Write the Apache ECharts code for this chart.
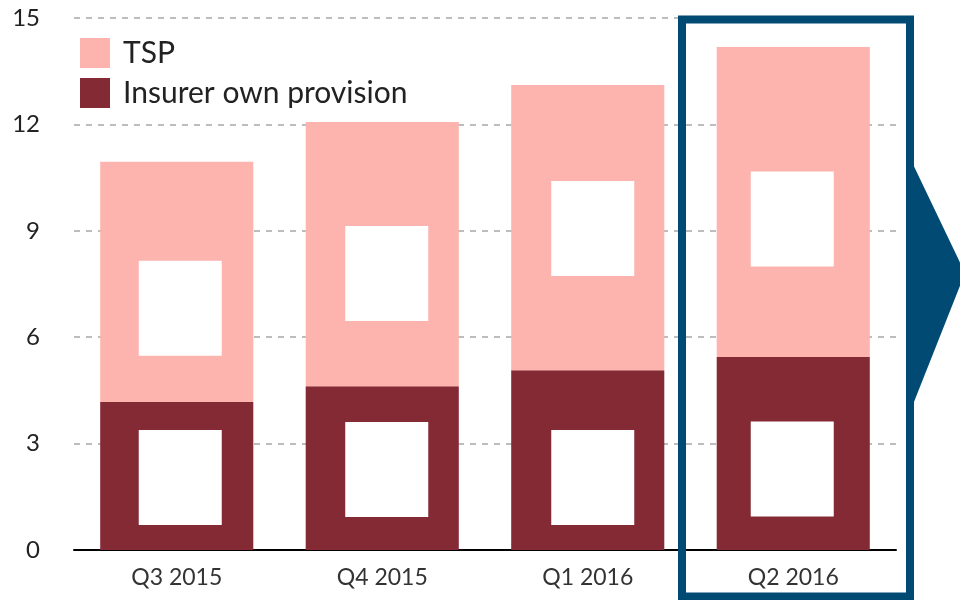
<!DOCTYPE html>
<html>
<head>
<meta charset="utf-8">
<style>
	html, body { margin: 0; padding: 0; background: #fff; }
	#chart { width: 960px; height: 600px; }
</style>
<script src="https://cdn.jsdelivr.net/npm/echarts@6/dist/echarts.min.js"></script>
</head>
<body>
<div id="chart"></div>
<script>
// data
const quarters = ['Q3 2015', 'Q4 2015', 'Q1 2016', 'Q2 2016']
const ownProvision = [4.17, 4.62, 5.07, 5.44]
const tsp = [6.78, 7.45, 8.04, 8.74]
const yTicks = [0, 3, 6, 9, 12, 15]

// where the blank label boxes sit inside each segment (px)
const ownBoxShift = [[3.5, 1.5], [4.5, 1.5], [5, 17.5], [-1, 15.5]]
const tspBoxShift = [[3.5, 26.5], [4.5, 19.5], [5, 1], [-1, 17]]

const font = 'Lato, "Open Sans", sans-serif'
const blankBox = {
	show: true,
	position: 'inside',
	formatter: ' ',
	backgroundColor: '#fff',
	width: 83,
	height: 95,
}

const withBox = (vals, shift) =>
	vals.map((v, i) => ({
		value: v,
		label: { ...blankBox, offset: shift[i] },
	}))

const myChart = echarts.init(document.getElementById('chart'))
const options = {
	animation: false,
	textStyle: { fontFamily: font },
	grid: { left: 74, right: 64, top: 18, bottom: 50 },
	legend: {
		orient: 'vertical',
		left: 75,
		top: 33,
		itemWidth: 30,
		itemHeight: 30,
		itemGap: 10,
		icon: 'rect',
		data: ['TSP', 'Insurer own provision'],
		textStyle: {
			fontSize: 30,
			lineHeight: 30,
			color: '#222',
			fontFamily: font,
			padding: [0, 0, 0, 8],
		},
	},
	xAxis: {
		type: 'category',
		data: quarters,
		axisTick: { show: false },
		axisLine: { lineStyle: { color: '#000', width: 2 } },
		axisLabel: { fontSize: 23, color: '#333', margin: 16, fontFamily: font },
	},
	yAxis: {
		type: 'value',
		min: yTicks[0],
		max: yTicks[yTicks.length - 1],
		interval: 3,
		axisLine: { show: false },
		axisTick: { show: false },
		axisLabel: { fontSize: 24, color: '#222', margin: 34, fontFamily: font },
		splitLine: { lineStyle: { color: '#bdbdbd', type: [6, 6], width: 2 } },
	},
	series: [
		{
			name: 'Insurer own provision',
			type: 'bar',
			stack: 'total',
			barWidth: '74.5%',
			itemStyle: { color: '#832a35' },
			data: withBox(ownProvision, ownBoxShift),
		},
		{
			name: 'TSP',
			type: 'bar',
			stack: 'total',
			barWidth: '74.5%',
			itemStyle: { color: '#fdb3ae' },
			data: withBox(tsp, tspBoxShift),
		},
	],
	graphic: [
		{
			type: 'rect',
			shape: { x: 682, y: 19.5, width: 228, height: 577 },
			style: { fill: 'none', stroke: '#004a74', lineWidth: 8 },
			z: 100,
		},
		{
			type: 'polygon',
			shape: { points: [[910, 158], [965, 273], [910, 412]] },
			style: { fill: '#004a74' },
			z: 100,
		},
	],
}
myChart.setOption(options)
</script>
</body>
</html>
